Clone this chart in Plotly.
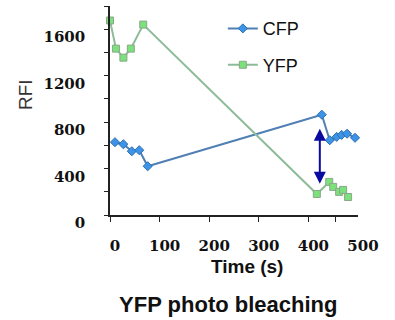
import plotly.graph_objects as go

# CFP series (time s, RFI)
cfp_time = [10, 27, 44, 59, 76, 427, 443, 457, 467, 478, 494]
cfp_rfi = [627, 609, 549, 558, 420, 864, 644, 673, 690, 700, 665]

# YFP series (time s, RFI)
yfp_time = [0, 12, 27, 42, 67, 417, 442, 450, 462, 470, 480]
yfp_rfi = [1675, 1433, 1355, 1433, 1640, 181, 285, 242, 199, 216, 155]

# Arrow marking the ratio change (time, RFI start -> end)
arrow_time = 423
arrow_low = 270
arrow_high = 755

x_tick_vals = [0, 100, 200, 300, 400, 500]
x_tick_text = ["0", "100", "200", "300", "400", "500"]
x_minor_ticks = [0, 100, 200, 300, 400, 455]
y_tick_vals = [0, 400, 800, 1200, 1600]
y_tick_text = ["0", "400", "800", "1200", "1600"]

fig = go.Figure()
fig.add_trace(go.Scatter(
    x=cfp_time, y=cfp_rfi, mode="lines+markers", name="CFP",
    legendgroup="a",
    line=dict(color="#4f7fb3", width=2),
    marker=dict(symbol="diamond", size=7, color="#3d93e6",
                line=dict(color="#2f6fb0", width=1)),
    cliponaxis=False,
))
fig.add_trace(go.Scatter(
    x=yfp_time, y=yfp_rfi, mode="lines+markers", name="YFP",
    legendgroup="b",
    line=dict(color="#8dbb98", width=2),
    marker=dict(symbol="square", size=7, color="#7ce07c",
                line=dict(color="#8aa88a", width=1)),
    cliponaxis=False,
))

fig.add_annotation(
    x=arrow_time, y=arrow_low, ax=arrow_time, ay=arrow_high,
    xref="x", yref="y", axref="x", ayref="y",
    showarrow=True, arrowhead=2, startarrowhead=2, arrowside="end+start",
    arrowsize=1.2, startarrowsize=1.2, arrowwidth=2, arrowcolor="#0a0aa0", text="",
)

tick_font = dict(family="DejaVu Serif", size=15, color="#111111", weight="bold")

fig.update_layout(
    width=395, height=320,
    margin=dict(l=110, r=37, t=6, b=105, autoexpand=False),
    paper_bgcolor="white", plot_bgcolor="white",
    showlegend=True,
    legend=dict(
        x=0.455, y=0.98, xanchor="left", yanchor="top",
        bgcolor="rgba(0,0,0,0)",
        font=dict(family="Liberation Sans", size=18, color="#111111"),
        tracegroupgap=10, itemwidth=30,
    ),
    title=dict(
        text="YFP photo bleaching", x=0.578, xanchor="center",
        y=0.025, yanchor="bottom", yref="container",
        font=dict(family="Liberation Sans", size=22,
                  color="#111111", weight="bold"),
    ),
    xaxis=dict(
        range=[0, 500], showgrid=False, zeroline=False, automargin=False,
        showline=True, linecolor="#222222", linewidth=1.5,
        tickmode="array", tickvals=x_tick_vals, ticktext=x_tick_text,
        ticks="", tickfont=tick_font,
        ticklabelstandoff=16, ticklabelshift=5,
        minor=dict(tickmode="array", tickvals=x_minor_ticks, ticks="outside",
                   ticklen=5, tickcolor="#222222", tickwidth=1),
        title=dict(text="&nbsp;&nbsp;&nbsp;&nbsp;&nbsp;Time (s)", standoff=6,
                   font=dict(family="Liberation Sans Narrow, Liberation Sans", size=19,
                             color="#111111", weight="bold")),
    ),
    yaxis=dict(
        range=[0, 1800], showgrid=False, zeroline=False, automargin=False,
        showline=True, linecolor="#222222", linewidth=1.5,
        tickmode="array", tickvals=y_tick_vals, ticktext=y_tick_text,
        ticks="outside", ticklen=4, tickcolor="#222222", tickfont=tick_font,
        ticklabelstandoff=16, ticklabelshift=8,
        minor=dict(dtick=200, ticks="outside", ticklen=4, tickcolor="#222222"),
        title=dict(text="&nbsp;&nbsp;&nbsp;&nbsp;&nbsp;&nbsp;RFI", standoff=6,
                   font=dict(family="Liberation Sans", size=19, color="#333333")),
    ),
)

fig.write_html("out.html", config={"displayModeBar": False},
               post_script="document.body.style.margin='0';document.body.style.padding='0';")
